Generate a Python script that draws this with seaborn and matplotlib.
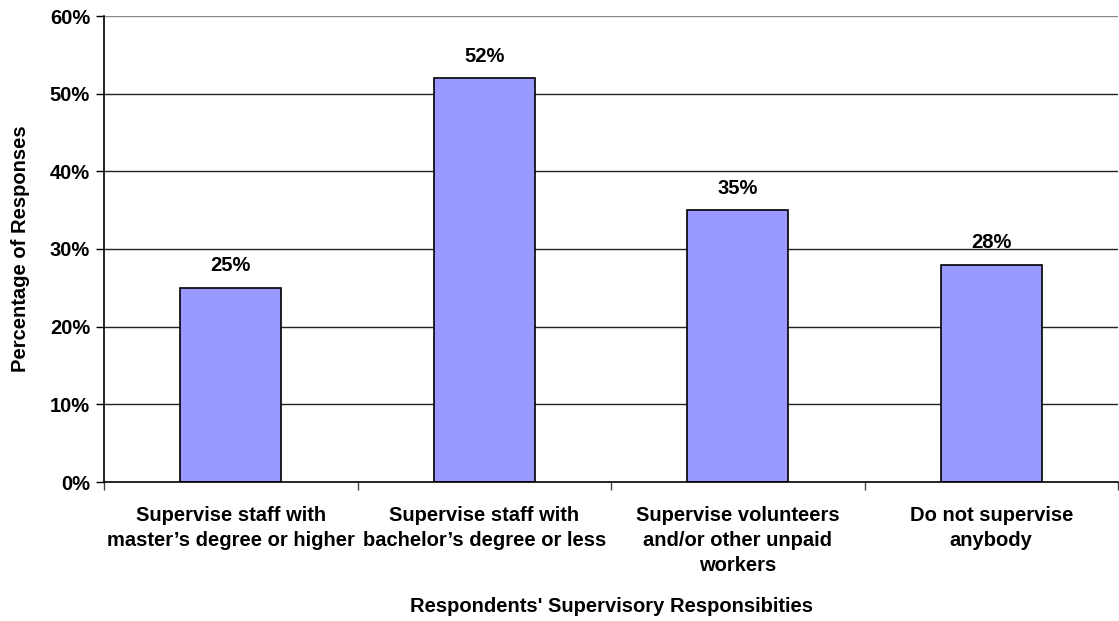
import matplotlib
matplotlib.use("Agg")
import matplotlib.pyplot as plt
import matplotlib.ticker as mtick
import pandas as pd
import seaborn as sns

categories = [
    "Supervise staff with\nmaster\u2019s degree or higher",
    "Supervise staff with\nbachelor\u2019s degree or less",
    "Supervise volunteers\nand/or other unpaid\nworkers",
    "Do not supervise\nanybody",
]
values = [0.25, 0.52, 0.35, 0.28]
y_ticks = [0.0, 0.1, 0.2, 0.3, 0.4, 0.5, 0.6]

sns.set_theme(style="white")
plt.rcParams["font.family"] = ["Liberation Sans", "DejaVu Sans"]
plt.rcParams["font.weight"] = "bold"
plt.rcParams["text.color"] = "black"
plt.rcParams["axes.labelcolor"] = "black"
plt.rcParams["xtick.color"] = "black"
plt.rcParams["ytick.color"] = "black"

FS = 14.5

df = pd.DataFrame({"category": categories, "value": values})

fig = plt.figure(figsize=(11.19, 6.21), dpi=100)
ax = fig.add_axes([104 / 1119, 1 - 482 / 621, 1 - 105 / 1119, (482 - 16) / 621])

for t in y_ticks[1:]:
    ax.axhline(t, color="#222222" if t < 0.6 else "#8a8a8a", linewidth=1, zorder=0)

sns.barplot(data=df, x="category", y="value", color="#9999FF", edgecolor="black",
            linewidth=1.2, width=0.4, saturation=1, ax=ax, zorder=2)

for i, v in enumerate(values):
    ax.text(i, v + 0.016, f"{v:.0%}", ha="center", va="bottom", fontsize=FS, fontweight="bold")

ax.set_xlim(-0.5, len(categories) - 0.5)
ax.set_ylim(0, 0.6)
ax.set_yticks(y_ticks)
ax.yaxis.set_major_formatter(mtick.FuncFormatter(lambda x, _: f"{x:.0%}"))
ax.set_xticks([i - 0.5 for i in range(len(categories) + 1)], minor=False)
ax.set_xticklabels([])
ax.set_xticks(range(len(categories)), minor=True)
ax.set_xticklabels(categories, minor=True, fontsize=FS, fontweight="bold", linespacing=1.42)
ax.tick_params(axis="x", which="minor", bottom=False, length=0, pad=17)
ax.tick_params(axis="x", which="major", bottom=True, length=6, width=1, color="#444444",
               direction="out")
ax.tick_params(axis="y", left=True, length=6, width=1, direction="out", labelsize=FS, pad=4)
for lbl in ax.get_yticklabels():
    lbl.set_fontweight("bold")

for side in ["top", "right"]:
    ax.spines[side].set_visible(False)
for side in ["left", "bottom"]:
    ax.spines[side].set_color("black")
    ax.spines[side].set_linewidth(1.2)

ax.set_xlabel("")
ax.set_ylabel("Percentage of Responses", fontsize=FS, fontweight="bold", labelpad=14)
fig.text((104 + 1119) / 2 / 1119, 1 - 607 / 621, "Respondents' Supervisory Responsibities",
         ha="center", va="center", fontsize=FS, fontweight="bold")

fig.savefig("out.png", dpi=100, facecolor="white")
